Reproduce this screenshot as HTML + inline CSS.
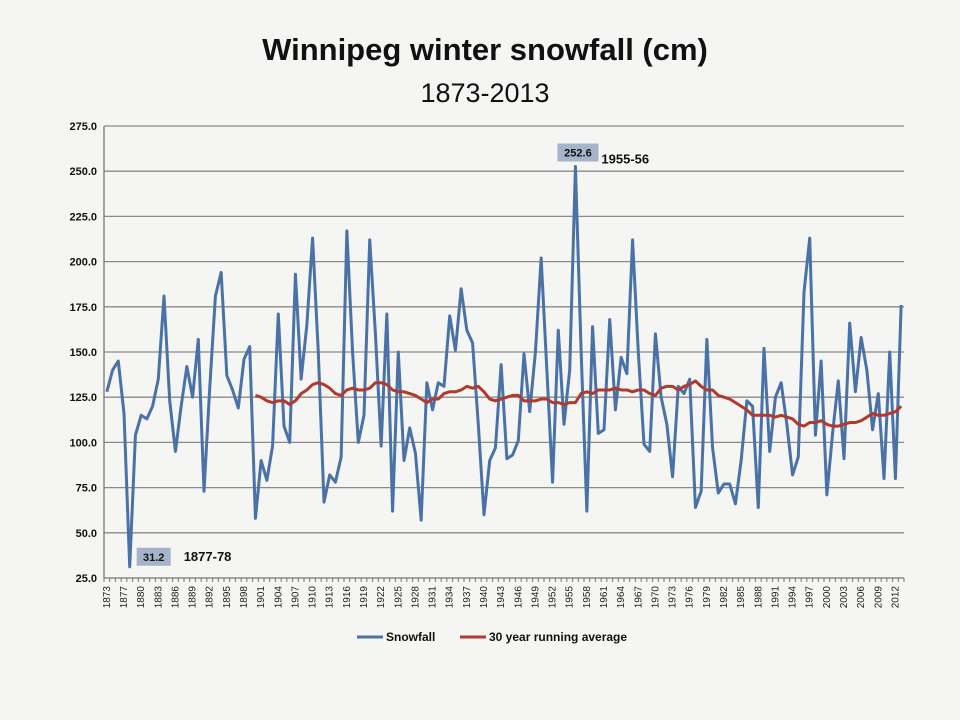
<!DOCTYPE html>
<html><head><meta charset="utf-8"><style>
body{margin:0;background:#f5f5f3;}
svg{display:block;font-family:"Liberation Sans",sans-serif;}
</style></head><body>
<svg id="chart" width="960" height="720" viewBox="0 0 960 720">
<rect x="0" y="0" width="960" height="720" fill="#f5f5f3"/>
<text x="485" y="60" text-anchor="middle" font-size="31" font-weight="bold" fill="#111">Winnipeg winter snowfall (cm)</text>
<text x="485" y="102" text-anchor="middle" font-size="27" fill="#111">1873-2013</text>
<g id="grid"></g><g id="yticks"></g><g id="xticks"></g><g id="series"></g><g id="annot"></g>
<g>
<line x1="357" y1="637" x2="383" y2="637" stroke="#4a72a6" stroke-width="3"/>
<text x="386" y="641" font-size="12" font-weight="bold" fill="#111">Snowfall</text>
<line x1="460" y1="637" x2="486" y2="637" stroke="#b03a2e" stroke-width="3"/>
<text x="489" y="641" font-size="12" font-weight="bold" fill="#111">30 year running average</text>
</g>
</svg>
<script>
const snowfall=[128,140,145,116,31.2,104,115,113,120,135,181,123,95,120,142,125,157,73,130,181,194,137,129,119,146,153,58,90,
79,98,171,109,100,193,135,165,213,150,67,82,78,92,217,150,100,115,212,160,98,171,62,150,90,108,94,
57,133,118,133,131,170,151,185,162,155,110,60,90,97,143,91,93,101,149,117,150,202,140,78,162,110,140,252.6,150,62,
164,105,107,168,118,147,138,212,150,99,95,160,125,110,81,131,127,135,64,73,157,97,72,77,77,66,90,
123,120,64,152,95,125,133,110,82,92,183,213,104,145,71,105,134,91,166,128,158,140,107,127,80,150,80,176];
const avgStart=26;
const runningAvg=[126,125,123,122,123,123,121,123,127,129,132,133,132,130,127,126,129,130,129,129,
130,133,133,132,129,128,128,127,126,124,122,124,124,127,128,128,129,131,130,131,
128,124,123,124,125,126,126,123,123,123,124,124,122,122,121,122,122,127,128,127,
129,129,129,130,129,129,128,129,129,127,126,130,131,131,129,131,132,134,131,129,
129,126,125,124,122,120,118,115,115,115,115,114,115,114,113,110,109,111,111,112,
110,109,109,110,111,111,112,114,116,115,115,116,117,120];
const yTicks=[25,50,75,100,125,150,175,200,225,250,275];
const xLabels=["1873","1877","1880","1883","1886","1889","1892","1895","1898","1901","1904","1907","1910","1913","1916","1919","1922","1925","1928","1931","1934","1937","1940","1943","1946","1949","1952","1955","1958","1961","1964","1967","1970","1973","1976","1979","1982","1985","1988","1991","1994","1997","2000","2003","2006","2009","2012"];
const annotations=[{i:4,v:"31.2",lab:"1877-78"},{i:82,v:"252.6",lab:"1955-56"}];

const NS="http://www.w3.org/2000/svg";
const L=104,R=904,T=126,B=578,N=snowfall.length;
const xs=i=>L+(i+0.5)*(R-L)/N;
const ys=v=>B-(v-25)*(B-T)/250;
function mk(tag,attrs,parent){const e=document.createElementNS(NS,tag);for(const k in attrs)e.setAttribute(k,attrs[k]);parent.appendChild(e);return e;}
const grid=document.getElementById('grid'),yt=document.getElementById('yticks'),xt=document.getElementById('xticks'),se=document.getElementById('series'),an=document.getElementById('annot');
yTicks.forEach(t=>{
  const y=ys(t);
  const g=mk('line',{x1:L,x2:R,y1:y,y2:y,stroke:t===25?'#777':'#8a8a8a','stroke-width':1.3},grid);
  
  
  const tx=mk('text',{x:L-7,y:y+4,'text-anchor':'end','font-size':11,'font-weight':'bold',fill:'#111'},yt);
  tx.textContent=t.toFixed(1);
  
  
});
const ax=mk('line',{x1:L,x2:L,y1:T,y2:B,stroke:'#777','stroke-width':1.3},grid);


for(let i=0;i<=N;i++){
  const x=L+i*(R-L)/N;
  const tk=mk('line',{x1:x,x2:x,y1:B,y2:B+4,stroke:'#777','stroke-width':1},xt);
  
  
}
xLabels.forEach((lab,k)=>{
  const x=xs(k*3)+3;
  const tx=mk('text',{x:x,y:B+8,'text-anchor':'end','font-size':10,fill:'#222',transform:`rotate(-90 ${x} ${B+8})`},xt);
  tx.textContent=lab;
  
  
});
const p1=mk('polyline',{points:snowfall.map((v,i)=>xs(i)+','+ys(v)).join(' '),fill:'none',stroke:'#4a72a6','stroke-width':3,'stroke-linejoin':'round'},se);


const p2=mk('polyline',{points:runningAvg.map((v,i)=>xs(i+avgStart)+','+ys(v)).join(' '),fill:'none',stroke:'#b03a2e','stroke-width':3,'stroke-linejoin':'round'},se);


annotations.forEach(a=>{
  const x=xs(a.i),y=ys(snowfall[a.i]);
  const low=snowfall[a.i]<100;
  const bx=low?x+7:x-18, by=low?y-19:y-23;
  const w=a.v.length*7+6;
  const r=mk('rect',{x:bx,y:by,width:w,height:18,fill:'#a6b4c9'},an);
  
  
  const t=mk('text',{x:bx+w/2,y:by+13,'text-anchor':'middle','font-size':11,'font-weight':'bold',fill:'#111'},an);
  t.textContent=a.v;
  
  
  const t2=mk('text',{x:low?bx+w+13:bx+w+3,y:low?by+13:by+20,'font-size':13,'font-weight':'bold',fill:'#111'},an);
  t2.textContent=a.lab;
  
  
});
</script>
</body></html>
